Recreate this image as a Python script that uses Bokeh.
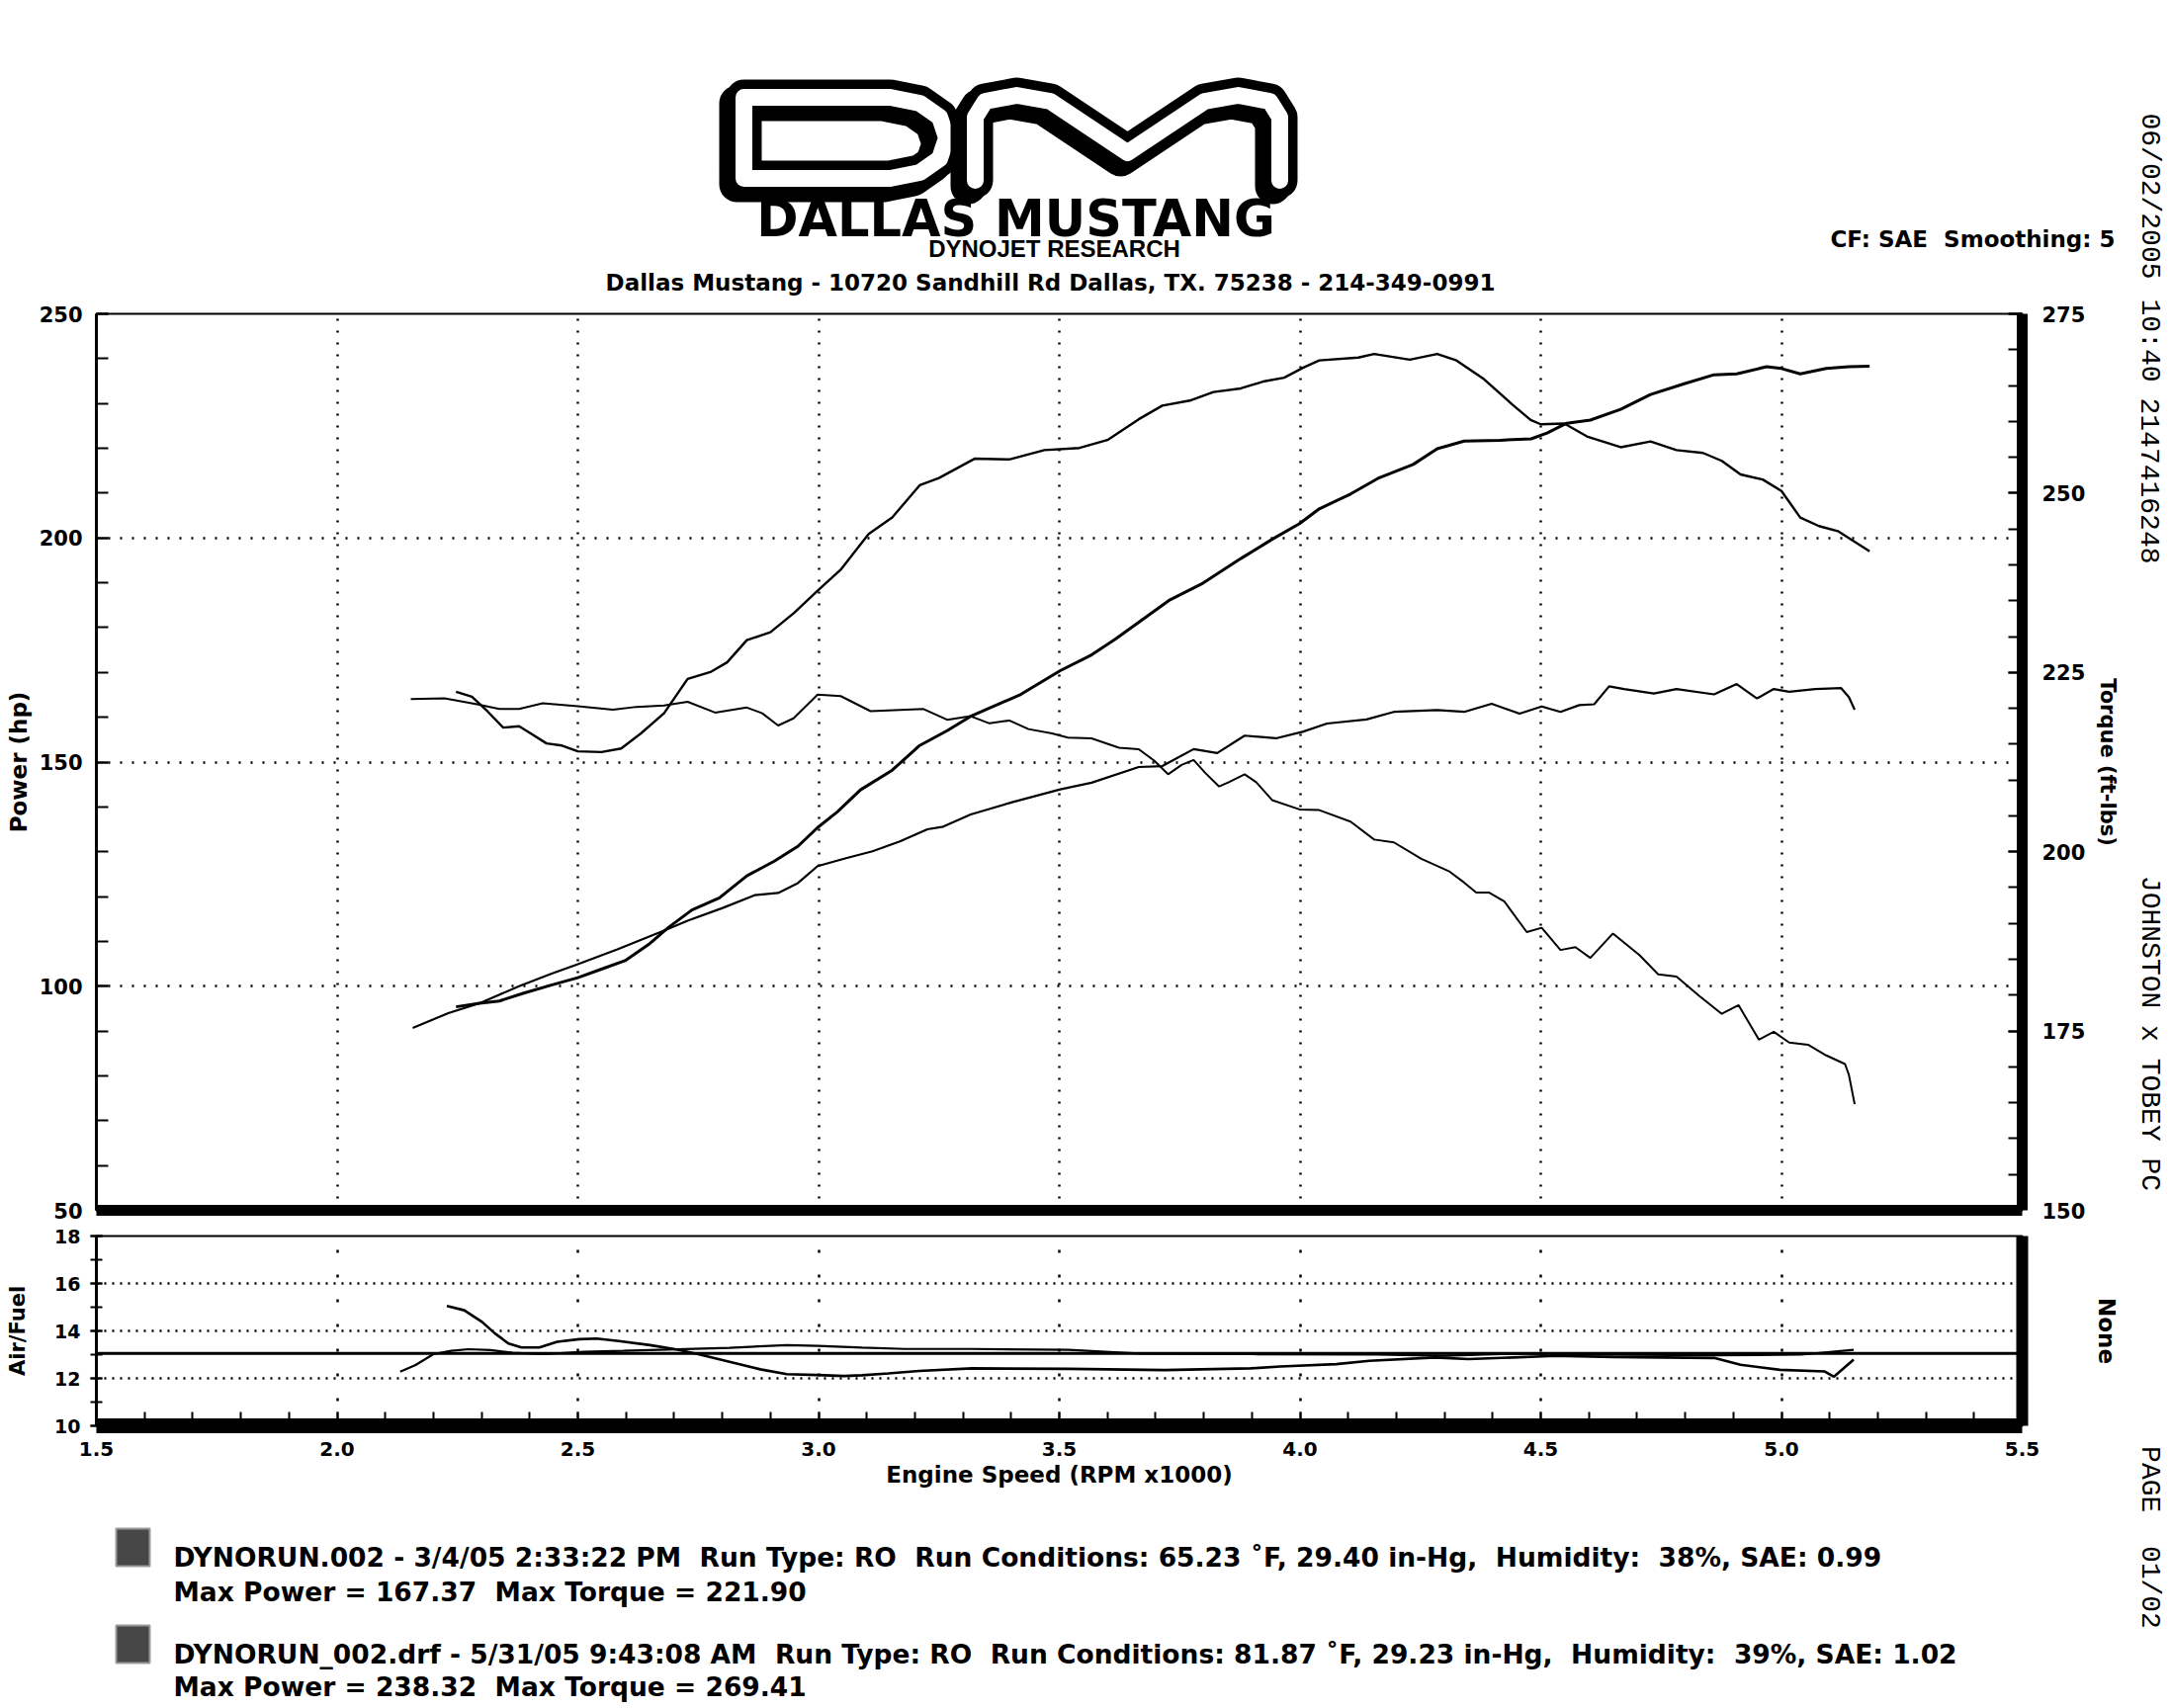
import math
from bokeh.plotting import figure
from bokeh.models import Range1d, LinearAxis, FixedTicker, Label, Span, PrintfTickFormatter
from bokeh.layouts import column, row
from bokeh.embed import file_html
from bokeh.resources import INLINE

# ---------------- data (read from the dyno sheet) ----------------
rpm_ticks = [1.5, 2.0, 2.5, 3.0, 3.5, 4.0, 4.5, 5.0, 5.5]
rpm_grid = [2.0, 2.5, 3.0, 3.5, 4.0, 4.5, 5.0]
power_ticks = [50, 100, 150, 200, 250]
power_grid = [100, 150, 200]
torque_ticks = [150, 175, 200, 225, 250, 275]
afr_ticks = [10, 12, 14, 16, 18]
afr_grid = [12, 14, 16]

# Run 1: DYNORUN.002 (3/4/05)
run1_power_rpm = [2.157, 2.231, 2.296, 2.378, 2.443, 2.500, 2.582, 2.679, 2.728, 2.802,
                  2.867, 2.916, 2.957, 2.998, 3.055, 3.112, 3.169, 3.226, 3.259, 3.316,
                  3.404, 3.502, 3.567, 3.665, 3.714, 3.779, 3.828, 3.885, 3.950, 4.007,
                  4.056, 4.138, 4.195, 4.285, 4.341, 4.398, 4.456, 4.502, 4.541, 4.580,
                  4.611, 4.642, 4.673, 4.735, 4.782, 4.860, 4.907, 4.949, 4.984, 5.016,
                  5.070, 5.124, 5.140, 5.152]
run1_power_hp = [90.7, 94.0, 96.2, 100.0, 102.7, 104.9, 108.2, 112.4, 114.6, 117.5,
                 120.3, 120.8, 123.0, 126.8, 128.5, 130.1, 132.3, 135.0, 135.6, 138.3,
                 141.1, 143.9, 145.4, 148.9, 149.1, 152.9, 152.0, 155.9, 155.3, 156.8,
                 158.6, 159.5, 161.2, 161.6, 161.2, 163.0, 160.8, 162.4, 161.2, 162.7,
                 162.9, 166.9, 166.3, 165.3, 166.3, 165.1, 167.4, 164.2, 166.3, 165.7,
                 166.3, 166.5, 164.5, 161.7]

run1_torque_rpm = [2.153, 2.223, 2.288, 2.337, 2.378, 2.427, 2.500, 2.573, 2.622, 2.679,
                   2.728, 2.785, 2.851, 2.883, 2.916, 2.948, 2.998, 3.046, 3.108, 3.218,
                   3.267, 3.316, 3.355, 3.396, 3.436, 3.485, 3.518, 3.567, 3.624, 3.665,
                   3.697, 3.726, 3.754, 3.779, 3.803, 3.832, 3.852, 3.885, 3.909, 3.942,
                   3.999, 4.040, 4.105, 4.154, 4.195, 4.252, 4.309, 4.341, 4.366, 4.393,
                   4.424, 4.471, 4.502, 4.541, 4.572, 4.603, 4.650, 4.705, 4.744, 4.782,
                   4.829, 4.876, 4.911, 4.953, 4.984, 5.016, 5.055, 5.093, 5.132, 5.140,
                   5.152]
run1_torque_ftlb = [221.3, 221.4, 220.6, 219.9, 219.9, 220.7, 220.3, 219.8, 220.2, 220.4,
                    220.9, 219.4, 220.1, 219.3, 217.6, 218.6, 221.9, 221.7, 219.6, 219.9,
                    218.4, 218.9, 217.9, 218.3, 217.1, 216.5, 215.9, 215.8, 214.5, 214.3,
                    212.7, 210.8, 212.1, 212.8, 211.0, 209.1, 209.7, 210.8, 209.7, 207.2,
                    205.9, 205.8, 204.2, 201.7, 201.3, 199.0, 197.3, 195.7, 194.3, 194.3,
                    193.1, 188.8, 189.4, 186.3, 186.7, 185.2, 188.6, 185.6, 182.9, 182.6,
                    179.9, 177.4, 178.6, 173.8, 174.9, 173.4, 173.1, 171.6, 170.4, 168.9,
                    164.8]

# Run 2: DYNORUN_002.drf (5/31/05)
run2_power_rpm = [2.247, 2.296, 2.337, 2.386, 2.443, 2.500, 2.549, 2.598, 2.647, 2.688,
                  2.737, 2.794, 2.851, 2.908, 2.957, 2.998, 3.039, 3.087, 3.153, 3.210,
                  3.267, 3.316, 3.420, 3.502, 3.567, 3.616, 3.673, 3.730, 3.795, 3.877,
                  3.942, 3.999, 4.040, 4.105, 4.162, 4.235, 4.285, 4.341, 4.415, 4.480,
                  4.513, 4.554, 4.603, 4.666, 4.728, 4.798, 4.860, 4.907, 4.969, 5.000,
                  5.039, 5.093, 5.140, 5.183]
run2_power_hp = [95.4, 96.2, 96.7, 98.4, 100.2, 101.9, 103.8, 105.7, 109.3, 113.1,
                 117.0, 119.7, 124.6, 127.9, 131.2, 135.4, 138.9, 143.8, 148.2, 153.7,
                 157.0, 160.2, 165.1, 170.4, 173.9, 177.4, 181.8, 186.2, 189.7, 195.4,
                 199.7, 203.2, 206.5, 209.8, 213.3, 216.4, 219.9, 221.6, 221.8, 222.1,
                 223.4, 225.6, 226.3, 228.7, 232.0, 234.4, 236.4, 236.6, 238.2, 237.8,
                 236.6, 237.8, 238.2, 238.3]

run2_torque_rpm = [2.247, 2.280, 2.312, 2.345, 2.378, 2.402, 2.435, 2.467, 2.500, 2.549,
                   2.590, 2.631, 2.679, 2.728, 2.777, 2.810, 2.851, 2.900, 2.949, 2.998,
                   3.047, 3.104, 3.153, 3.210, 3.250, 3.324, 3.396, 3.469, 3.542, 3.600,
                   3.665, 3.714, 3.771, 3.820, 3.877, 3.926, 3.967, 4.007, 4.040, 4.121,
                   4.154, 4.228, 4.285, 4.325, 4.382, 4.440, 4.479, 4.500, 4.549, 4.596,
                   4.666, 4.728, 4.782, 4.837, 4.876, 4.915, 4.961, 5.000, 5.039, 5.078,
                   5.117, 5.183]
run2_torque_ftlb = [222.3, 221.6, 219.6, 217.3, 217.5, 216.5, 215.1, 214.8, 214.0, 213.9,
                    214.4, 216.5, 219.3, 224.1, 225.1, 226.4, 229.5, 230.6, 233.3, 236.4,
                    239.4, 244.3, 246.6, 251.1, 252.1, 254.8, 254.7, 256.0, 256.3, 257.4,
                    260.3, 262.2, 262.9, 264.1, 264.6, 265.6, 266.1, 267.5, 268.5, 268.9,
                    269.4, 268.6, 269.4, 268.5, 265.9, 262.4, 260.2, 259.6, 259.7, 257.9,
                    256.4, 257.2, 256.0, 255.6, 254.5, 252.6, 251.9, 250.3, 246.6, 245.4,
                    244.7, 241.9]

# Air/Fuel traces
run1_afr_rpm = [2.131, 2.163, 2.200, 2.237, 2.273, 2.319, 2.365, 2.429, 2.512, 2.594,
                2.705, 2.815, 2.934, 2.998, 3.090, 3.180, 3.319, 3.519, 3.664, 3.900,
                4.160, 4.300, 4.450, 4.600, 4.860, 5.040, 5.150]
run1_afr = [12.28, 12.56, 13.02, 13.16, 13.23, 13.19, 13.08, 13.02, 13.12, 13.16,
            13.22, 13.29, 13.40, 13.37, 13.30, 13.24, 13.24, 13.20, 13.05, 13.02,
            13.00, 12.95, 13.05, 13.00, 12.97, 13.00, 13.20]

run2_afr_rpm = [2.228, 2.264, 2.301, 2.328, 2.356, 2.383, 2.420, 2.457, 2.503, 2.539,
                2.585, 2.650, 2.705, 2.750, 2.815, 2.879, 2.934, 2.998, 3.053, 3.090,
                3.145, 3.209, 3.319, 3.519, 3.719, 3.897, 3.959, 4.075, 4.144, 4.280,
                4.350, 4.530, 4.650, 4.860, 4.915, 4.997, 5.090, 5.109, 5.150]
run2_afr = [15.05, 14.87, 14.38, 13.89, 13.47, 13.30, 13.30, 13.54, 13.65, 13.68,
            13.57, 13.40, 13.22, 13.02, 12.70, 12.38, 12.18, 12.14, 12.10, 12.13,
            12.21, 12.31, 12.42, 12.40, 12.35, 12.42, 12.50, 12.60, 12.74, 12.88,
            12.81, 12.95, 12.90, 12.86, 12.57, 12.36, 12.29, 12.07, 12.79]

afr_target = 13.05

NB2 = " \u00a0"   # a double space that survives SVG whitespace collapsing
legend_lines = [
    f"DYNORUN.002 - 3/4/05 2:33:22 PM{NB2}Run Type: RO{NB2}Run Conditions: 65.23 \u02daF, 29.40 in-Hg,{NB2}Humidity:{NB2}38%, SAE: 0.99",
    f"Max Power = 167.37{NB2}Max Torque = 221.90",
    f"DYNORUN_002.drf - 5/31/05 9:43:08 AM{NB2}Run Type: RO{NB2}Run Conditions: 81.87 \u02daF, 29.23 in-Hg,{NB2}Humidity:{NB2}39%, SAE: 1.02",
    f"Max Power = 238.32{NB2}Max Torque = 269.41",
]

# ---------------- layout (page pixels) ----------------
PAGE_W, PAGE_H = 2195, 1728
COL_W = 2150          # width of the plot column
STRIP_W = PAGE_W - COL_W
HEADER_H = 300
FL, FR = 97, 2045     # plot frame, left/right
T_TOP, T_BOT = 317, 1224
TOP_PAD_B = 14
B_TOP, B_BOT = 1250, 1442
BOT_END = 1525

AXFONT = "DejaVu Sans"
MONO = "Liberation Mono"


def blank(width, height, x0, x1, y0, y1, left=0, right=0):
    f = figure(width=width, height=height, x_range=Range1d(x0, x1), y_range=Range1d(y1, y0),
               x_axis_type=None, y_axis_type=None, min_border=0,
               min_border_left=left, min_border_right=right,
               output_backend="svg", toolbar_location=None,
               background_fill_color="white", border_fill_color="white",
               outline_line_color=None)
    f.grid.visible = False
    return f


def add_label(fig, x, y, text, size, font=AXFONT, style="bold", align="center",
              baseline="middle", angle=0.0, color="black"):
    fig.add_layout(Label(x=x, y=y, text=text, text_font_size=f"{size}px", text_font=font,
                         text_font_style=style, text_align=align, text_baseline=baseline,
                         angle=angle, text_color=color))


def style_axis(ax, size):
    ax.major_label_text_font = AXFONT
    ax.major_label_text_font_style = "bold"
    ax.major_label_text_font_size = f"{size}px"
    ax.major_label_text_color = "black"
    ax.axis_line_color = "black"
    ax.major_tick_line_color = "black"
    ax.minor_tick_line_color = "black"
    ax.axis_label_text_font = AXFONT
    ax.axis_label_text_font_style = "bold"
    ax.axis_label_text_color = "black"


# ---------------- header ----------------
header = blank(PAGE_W, HEADER_H, 0, PAGE_W, 0, HEADER_H)

# "DM" logo drawn as outlined strokes (shadow, black outline, white core)
logo_d_x = [752, 752, 900, 930, 950, 957, 950, 930, 900, 752]
logo_d_y = [180, 98, 98, 104, 118, 139, 160, 174, 180, 180]
logo_m_x = [986, 986, 996, 1028, 1062, 1140, 1218, 1252, 1284, 1294, 1294]
logo_m_y = [182, 118, 102, 96, 102, 154, 102, 96, 102, 118, 182]
for xs, ys in ((logo_d_x, logo_d_y), (logo_m_x, logo_m_y)):
    header.line([v - 7 for v in xs], [v + 6 for v in ys], line_color="black", line_width=36,
                line_join="round", line_cap="round")
    header.line(xs, ys, line_color="black", line_width=36, line_join="round", line_cap="round")
    header.line(xs, ys, line_color="white", line_width=17, line_join="round", line_cap="round")

add_label(header, 1027, 221, "DALLAS MUSTANG", 51, font="DejaVu Sans")
add_label(header, 1066, 251, "DYNOJET RESEARCH", 24, font="Liberation Sans")
add_label(header, 1062, 285,
          "Dallas Mustang - 10720 Sandhill Rd Dallas, TX. 75238 - 214-349-0991", 23)
add_label(header, 1995, 241, f"CF: SAE{NB2}Smoothing: 5", 23)
add_label(header, 2174, 198, "06/02/2005", 28, font=MONO, style="normal", angle=-math.pi / 2)

# ---------------- top figure: power & torque ----------------
top = figure(x_range=Range1d(1.5, 5.5), y_range=Range1d(50, 250),
             frame_width=FR - FL, frame_height=T_BOT - T_TOP,
             min_border_left=FL, min_border_right=COL_W - FR,
             min_border_top=T_TOP - HEADER_H, min_border_bottom=TOP_PAD_B,
             output_backend="svg", toolbar_location=None,
             background_fill_color="white", border_fill_color="white",
             outline_line_color="black", outline_line_width=2)
top.extra_y_ranges = {"tq": Range1d(150, 275)}

xa = top.xaxis[0]
style_axis(xa, 20)
xa.ticker = FixedTicker(ticks=[])
xa.major_tick_in = 0
xa.major_tick_out = 0
xa.minor_tick_in = 0
xa.minor_tick_out = 0
xa.axis_line_width = 11

ya = top.yaxis[0]
style_axis(ya, 21)
ya.ticker = FixedTicker(ticks=power_ticks, minor_ticks=list(range(50, 251, 10)))
ya.major_tick_in = 12
ya.major_tick_out = 0
ya.minor_tick_in = 12
ya.minor_tick_out = 0
ya.major_tick_line_width = 2
ya.minor_tick_line_width = 2
ya.axis_line_width = 3
ya.major_label_standoff = 14
ya.axis_label = "Power (hp)"
ya.axis_label_text_font_size = "23px"
ya.axis_label_standoff = 5

ra = LinearAxis(y_range_name="tq")
style_axis(ra, 21)
ra.ticker = FixedTicker(ticks=torque_ticks, minor_ticks=list(range(150, 276, 5)))
ra.major_tick_in = 14
ra.major_tick_out = 0
ra.minor_tick_in = 14
ra.minor_tick_out = 0
ra.major_tick_line_width = 2
ra.minor_tick_line_width = 2
ra.axis_line_width = 11
ra.major_label_standoff = 20
ra.axis_label = "Torque (ft-lbs)"
ra.axis_label_text_font_size = "21px"
ra.axis_label_standoff = 8
top.add_layout(ra, "right")

top.xgrid.ticker = FixedTicker(ticks=rpm_grid)
top.ygrid.ticker = FixedTicker(ticks=power_grid)
for g in (top.xgrid[0], top.ygrid[0]):
    g.grid_line_color = "black"
    g.grid_line_width = 2.5
    g.grid_line_dash = "2 10"

top.line(run1_power_rpm, run1_power_hp, line_color="black", line_width=2.2)
top.line(run2_power_rpm, run2_power_hp, line_color="black", line_width=3)
top.line(run1_torque_rpm, run1_torque_ftlb, line_color="black", line_width=2, y_range_name="tq")
top.line(run2_torque_rpm, run2_torque_ftlb, line_color="black", line_width=2.4, y_range_name="tq")

# ---------------- bottom figure: air/fuel ----------------
bot = figure(x_range=Range1d(1.5, 5.5), y_range=Range1d(10, 18),
             frame_width=FR - FL, frame_height=B_BOT - B_TOP,
             min_border_left=FL, min_border_right=COL_W - FR,
             min_border_top=B_TOP - (T_BOT + TOP_PAD_B),
             min_border_bottom=BOT_END - B_BOT,
             output_backend="svg", toolbar_location=None,
             background_fill_color="white", border_fill_color="white",
             outline_line_color="black", outline_line_width=2)

bx = bot.xaxis[0]
style_axis(bx, 20)
bx.ticker = FixedTicker(ticks=rpm_ticks, minor_ticks=[round(1.5 + 0.1 * i, 1) for i in range(41)])
bx.formatter = PrintfTickFormatter(format="%.1f")
bx.major_tick_in = 14
bx.major_tick_out = 0
bx.minor_tick_in = 14
bx.minor_tick_out = 0
bx.major_tick_line_width = 2
bx.minor_tick_line_width = 2
bx.axis_line_width = 15
bx.major_label_standoff = 16
bx.axis_label = "Engine Speed (RPM x1000)"
bx.axis_label_text_font_size = "23px"
bx.axis_label_standoff = 3

bya = bot.yaxis[0]
style_axis(bya, 19)
bya.ticker = FixedTicker(ticks=afr_ticks, minor_ticks=list(range(10, 19)))
bya.major_tick_in = 6
bya.major_tick_out = 6
bya.minor_tick_in = 6
bya.minor_tick_out = 6
bya.major_tick_line_width = 2
bya.minor_tick_line_width = 2
bya.axis_line_width = 3
bya.major_label_standoff = 10
bya.axis_label = "Air/Fuel"
bya.axis_label_text_font_size = "21px"
bya.axis_label_standoff = 22

bra = LinearAxis()
style_axis(bra, 19)
bra.ticker = FixedTicker(ticks=[])
bra.major_tick_in = 0
bra.major_tick_out = 0
bra.axis_line_width = 12
bra.axis_label = "None"
bra.axis_label_text_font_size = "23px"
bra.axis_label_standoff = 72
bot.add_layout(bra, "right")

bot.xgrid.ticker = FixedTicker(ticks=rpm_grid)
bot.ygrid.ticker = FixedTicker(ticks=afr_grid)
bot.xgrid[0].grid_line_color = "black"
bot.xgrid[0].grid_line_width = 2.5
bot.xgrid[0].grid_line_dash = "3 22"
bot.ygrid[0].grid_line_color = "black"
bot.ygrid[0].grid_line_width = 2.5
bot.ygrid[0].grid_line_dash = "2 6"

bot.add_layout(Span(location=afr_target, dimension="width", line_color="black", line_width=3))
bot.line(run1_afr_rpm, run1_afr, line_color="black", line_width=2.2)
bot.line(run2_afr_rpm, run2_afr, line_color="black", line_width=2.6)

# ---------------- legend block (frame aligned with the plot frames) ----------------
leg = figure(width=COL_W, height=PAGE_H - BOT_END, x_range=Range1d(FL, FR),
             y_range=Range1d(PAGE_H, BOT_END), frame_width=FR - FL,
             x_axis_type=None, y_axis_type=None, min_border=0,
             min_border_left=FL, min_border_right=COL_W - FR,
             output_backend="svg", toolbar_location=None,
             background_fill_color="white", border_fill_color="white",
             outline_line_color=None)
leg.grid.visible = False
swatch_y = [1565, 1663]
leg.rect(x=[134, 134], y=swatch_y, width=34, height=38, fill_color="#474747",
         line_color="#9a9a9a", line_width=2)
for txt, cy in zip(legend_lines, (1575, 1610, 1673, 1706)):
    add_label(leg, 175, cy, txt, 26.5, font="DejaVu Sans", align="left")

# ---------------- right strip: printer text ----------------
strip = blank(STRIP_W, PAGE_H - HEADER_H, COL_W, PAGE_W, HEADER_H, PAGE_H)
for txt, cy in (("10:40", 344), ("2147416248", 486),
                ("JOHNSTON x TOBEY PC", 1045), ("PAGE  01/02", 1555)):
    add_label(strip, 2174, cy, txt.replace("  ", NB2), 28, font=MONO, style="normal",
              angle=-math.pi / 2)

layout = column(header, row(column(top, bot, leg, spacing=0), strip, spacing=0), spacing=0)
open("out.html", "w").write(file_html(layout, INLINE))
